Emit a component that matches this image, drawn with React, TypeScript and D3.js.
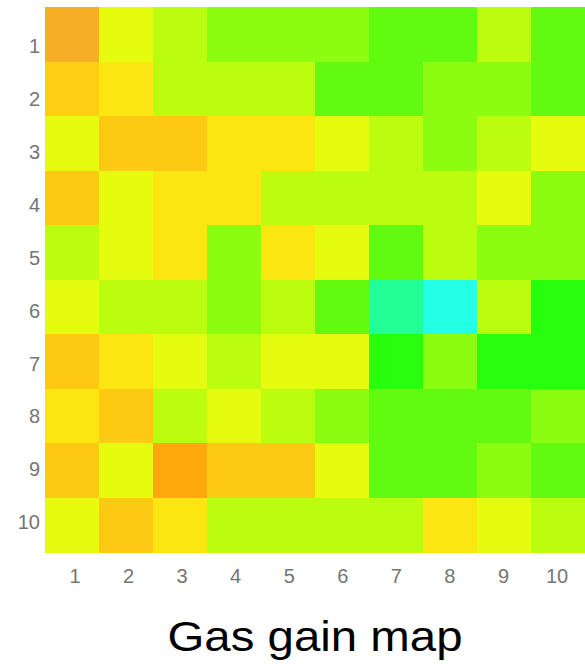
import React from 'react'
import * as d3 from 'd3'

// row / column labels of the 10 x 10 pad grid
const rows = ['1', '2', '3', '4', '5', '6', '7', '8', '9', '10']
const cols = ['1', '2', '3', '4', '5', '6', '7', '8', '9', '10']

// relative gain level per pad (row by row)
const gain = [
	[1, 4, 5, 6, 6, 6, 7, 7, 5, 7],
	[2.2, 3, 5, 5, 5, 7, 7, 6, 6, 7],
	[4, 2, 2, 3, 3, 4, 5, 6, 5, 4],
	[2, 4, 3, 3, 5, 5, 5, 5, 4, 6],
	[5, 4, 3, 6, 3, 4, 7, 5, 6, 6],
	[4, 5, 5, 6, 5, 7, 9, 10, 5, 8],
	[2, 3, 4, 5, 4, 4, 8, 6, 8, 8],
	[3, 2, 5, 4, 5, 6, 7, 7, 7, 6],
	[2, 4, 0, 2, 2, 4, 7, 7, 6, 7],
	[4, 2, 3, 5, 5, 5, 5, 3, 4, 5],
]

const colorLevels = [0, 1, 2, 3, 4, 5, 6, 7, 8, 9, 10]
const colorStops = [
	'#ffa80e', '#f5ae26', '#fdc912', '#fbe612', '#e6fc0e', '#bcfc0e',
	'#8cfc10', '#62fa10', '#28ff0e', '#22ff96', '#22ffe4',
]

const title = 'Gas gain map'

const App = () => {
	const width = 585
	const height = 666

	const x = d3.scaleBand().domain(cols).range([45, 585])
	const y = d3.scaleBand().domain(rows).range([7, 552])
	// tick labels are not quite centred on the pads in the source
	const yTick = d3.scalePoint().domain(rows).range([46, 522])
	const xTick = d3.scalePoint().domain(cols).range([75, 557])

	const color = d3
		.scaleLinear<string>()
		.domain(colorLevels)
		.range(colorStops)
		.interpolate(d3.interpolateRgb)

	const cells = gain.flatMap((row, i) =>
		row.map((v, j) => ({ r: rows[i], c: cols[j], v }))
	)

	const font = '"Liberation Sans", Arial, sans-serif'

	return (
		<svg
			width={width}
			height={height}
			style={{ position: 'absolute', left: 0, top: 0, background: '#fff' }}
		>
			<g shapeRendering="crispEdges">
				{cells.map(d => (
					<rect
						key={d.r + '-' + d.c}
						x={x(d.c)}
						y={y(d.r)}
						width={x.bandwidth() + 0.5}
						height={y.bandwidth() + 0.5}
						fill={color(d.v)}
					/>
				))}
			</g>

			<g fontFamily={font} fontSize={20} fill="#757575">
				{rows.map(r => (
					<text
						key={'y' + r}
						x={40}
						y={yTick(r)}
						dy="0.36em"
						textAnchor="end"
					>
						{r}
					</text>
				))}
				{cols.map(c => (
					<text
						key={'x' + c}
						x={xTick(c)}
						y={576}
						dy="0.36em"
						textAnchor="middle"
					>
						{c}
					</text>
				))}
			</g>

			<text
				x={315}
				y={651}
				fontFamily={font}
				fontSize={42}
				textAnchor="middle"
				textLength={295}
				lengthAdjust="spacingAndGlyphs"
				fill="#000"
			>
				{title}
			</text>
		</svg>
	)
}

export default App
